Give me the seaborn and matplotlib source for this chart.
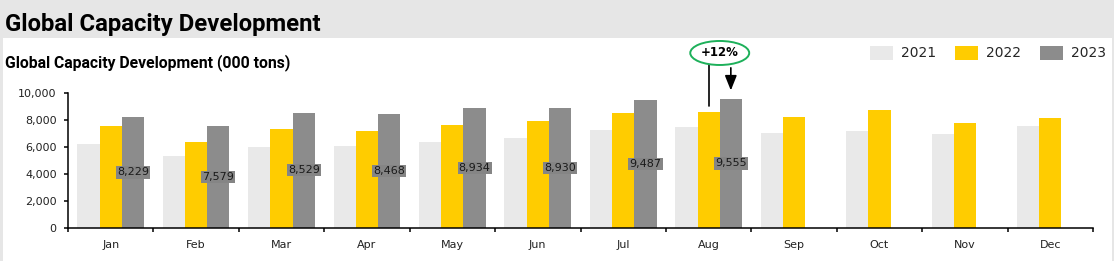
import numpy as np
import pandas as pd
import matplotlib
matplotlib.use("Agg")
import matplotlib.pyplot as plt
from matplotlib.patches import Rectangle, Patch, Ellipse
import seaborn as sns

months = ["Jan", "Feb", "Mar", "Apr", "May", "Jun", "Jul", "Aug", "Sep", "Oct", "Nov", "Dec"]
years = ["2021", "2022", "2023"]
v2021 = [6200, 5330, 6000, 6050, 6400, 6650, 7270, 7470, 7070, 7200, 6970, 7590]
v2022 = [7590, 6380, 7350, 7220, 7620, 7960, 8560, 8610, 8210, 8760, 7770, 8140]
v2023 = [8229, 7579, 8529, 8468, 8934, 8930, 9487, 9555, np.nan, np.nan, np.nan, np.nan]
colors = ["#E9E9E9", "#FFCC00", "#8C8C8C"]
yticks = [0, 2000, 4000, 6000, 8000, 10000]
growth_text = "+12%"

rows = []
for yr, vals in zip(years, [v2021, v2022, v2023]):
    for m, v in zip(months, vals):
        rows.append({"month": m, "year": yr, "value": v})
df = pd.DataFrame(rows).dropna()

sns.set_theme(style="white")
plt.rcParams["font.family"] = ["DejaVu Sans"]

W, H = 1114, 261
fig = plt.figure(figsize=(W / 100, H / 100), dpi=100)
fig.patch.set_facecolor("#E6E6E6")
fig.patches.append(Rectangle((3 / W, 0), (1112 - 3) / W, 1 - 37.5 / H,
                             transform=fig.transFigure, facecolor="white",
                             edgecolor="none", zorder=-5))

ax = fig.add_axes([68 / W, 1 - 227.7 / H, (1093 - 68) / W, (227.7 - 93.3) / H])
ax.set_facecolor("none")
ax.set_zorder(2)

sns.barplot(data=df, x="month", y="value", hue="year", order=months,
            hue_order=years, palette=colors, width=0.78, errorbar=None,
            saturation=1, legend=False, ax=ax, linewidth=0)

ax.set_xlim(-0.5, 11.5)
ax.set_ylim(0, 10000)
ax.set_yticks(yticks)
ax.set_yticklabels([f"{t:,}" for t in yticks])
ax.set_xlabel("")
ax.set_ylabel("")
ax.set_xticks(range(12))
ax.set_xticks(np.arange(-0.5, 12, 1), minor=True)
ax.tick_params(axis="x", which="major", bottom=True, length=0, pad=8.5, labelsize=8,
               labelcolor="#222222")
ax.tick_params(axis="x", which="minor", bottom=True, length=3.2, width=1.1, color="black",
               direction="out")
ax.tick_params(axis="y", which="major", left=True, length=2.6, width=1.1, color="black",
               direction="out", pad=5.5, labelsize=8, labelcolor="#222222")
for s in ["top", "right"]:
    ax.spines[s].set_visible(False)
for s in ["left", "bottom"]:
    ax.spines[s].set_color("black")
    ax.spines[s].set_linewidth(1.1)

# data labels for 2023
for bar in ax.containers[2]:
    h = bar.get_height()
    if np.isnan(h) or h == 0:
        continue
    ax.text(bar.get_x() + bar.get_width() / 2, h / 2, f"{h:,.0f}",
            ha="center", va="center", fontsize=8, color="#1a1a1a",
            bbox=dict(boxstyle="square,pad=0.1", fc="#858585", ec="none"), zorder=5)

# annotation
b22 = ax.containers[1][7]
b23 = ax.containers[2][7]
x22 = b22.get_x() + b22.get_width() / 2
x23 = b23.get_x() + b23.get_width() / 2
ax.plot([x22, x22], [12100, b22.get_height() + 450], color="black", lw=1.2,
        clip_on=False, zorder=6)
ax.annotate("", xy=(x23, b23.get_height() + 450), xytext=(x23, 12100),
            arrowprops=dict(arrowstyle="-|>,head_length=0.9,head_width=0.36",
                            color="black", lw=1.2, mutation_scale=10),
            annotation_clip=False, zorder=6)
ecx = (x22 + x23) / 2
ax.add_patch(Ellipse((ecx, 13000), 0.69, 1786, facecolor="white", edgecolor="#1DB05A",
                     lw=1.4, clip_on=False, zorder=7))
ax.text(ecx, 13000, growth_text, ha="center", va="center", fontsize=8.5,
        fontweight="bold", color="black", zorder=8, clip_on=False)

# titles
fig.text(5 / W, 1 - 31.4 / H, "Global Capacity Development", fontsize=17.2,
         fontweight="bold", color="black", ha="left", va="baseline",
         family=["Roboto", "DejaVu Sans"])
fig.text(5 / W, 1 - 67 / H, "Global Capacity Development (000 tons)", fontsize=11.3,
         fontweight="bold", color="black", ha="left", va="baseline",
         family=["Roboto", "DejaVu Sans"])

# legend
handles = [Patch(facecolor=c, edgecolor="none", label=y) for c, y in zip(colors, years)]
fig.legend(handles=handles, loc="center right", bbox_to_anchor=(1106 / W, 1 - 53 / H),
           ncol=3, frameon=False, fontsize=10, handlelength=1.65, handleheight=1.22,
           handletextpad=0.58, columnspacing=1.37, borderpad=0, borderaxespad=0)

fig.savefig("out.png", dpi=100, facecolor=fig.get_facecolor())
